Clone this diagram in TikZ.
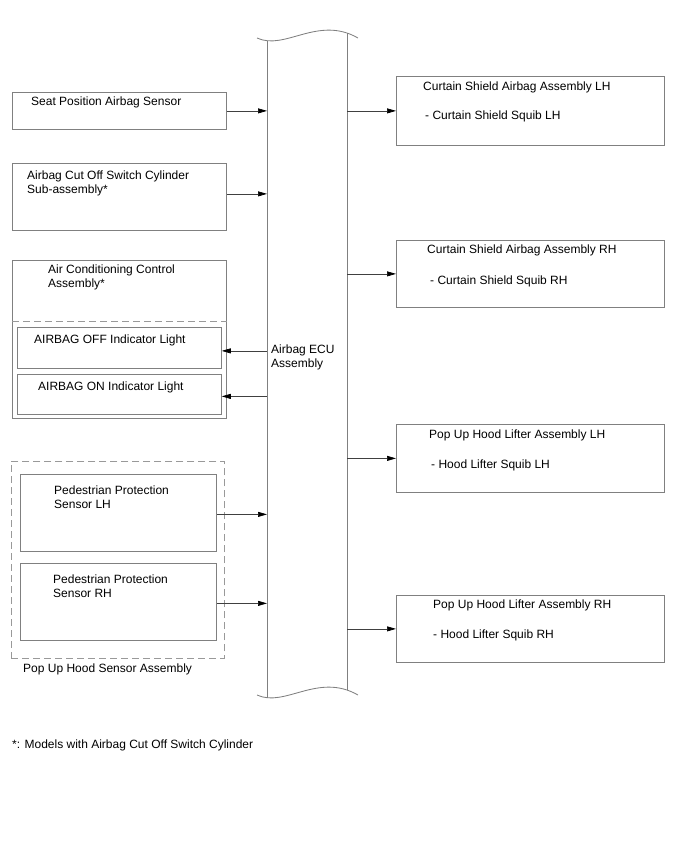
\documentclass[tikz,border=0pt]{standalone}
\usepackage{fontspec}
\setmainfont{Liberation Sans}
\usetikzlibrary{positioning, arrows.meta}

\begin{document}
\begin{tikzpicture}[x=1pt,y=-1pt,font=\fontsize{12}{14}\selectfont,
  >={Triangle[length=9pt,width=5pt,color=black]},
  box/.style={draw=black!50,line width=0.75pt,anchor=north west,inner sep=0pt},
  groupbox/.style={draw=black!40,dash pattern=on 7pt off 4pt,line width=0.75pt,anchor=north west,inner sep=0pt},
  txt/.style={inner sep=0pt,align=left},
  wire/.style={draw=black!75,line width=0.7pt,->},
  eculine/.style={draw=black!50,line width=0.85pt}]
  \useasboundingbox (0,0) rectangle (688,852);

  % airbag ECU bar
  \node[anchor=north west,minimum width=80pt,minimum height=650pt,inner sep=0pt](ecu) at (267,42) {};
  \draw[eculine] (257,38) .. controls (285,51) and (318,15) .. (358,38);
  \draw[eculine] (257,695) .. controls (285,708) and (318,672) .. (358,695);
  \draw[eculine] (267,40.8) -- (267,697.8);
  \draw[eculine] (347,33.0) -- (347,690.0);
  \node[txt,anchor=north west] (ecutxt) at (271,345) {Airbag ECU\\Assembly};

  % inputs
  \node[box,minimum width=214pt,minimum height=37pt](seat) at (12,92) {};
  \node[txt,below right=5pt and 19pt of seat.north west](seattxt){Seat Position Airbag Sensor};
  \node[box,minimum width=214pt,minimum height=67pt](cutoff) at (12,163) {};
  \node[txt,below right=8pt and 15pt of cutoff.north west](cutofftxt){Airbag Cut Off Switch Cylinder\\Sub-assembly*};

  % air conditioning control
  \node[box,minimum width=214pt,minimum height=158pt](ac) at (12,260) {};
  \node[txt,below right=5pt and 36pt of ac.north west](actxt){Air Conditioning Control\\Assembly*};
  \draw[groupbox] ([yshift=-61pt]ac.north west) -- ([yshift=-61pt]ac.north east);
  \node[box,minimum width=204pt,minimum height=41pt](off) at (17,327) {};
  \node[txt,below right=8pt and 17pt of off.north west](offtxt){AIRBAG OFF Indicator Light};
  \node[box,minimum width=204pt,minimum height=40pt](on) at (17,374) {};
  \node[txt,below right=8pt and 21pt of on.north west](ontxt){AIRBAG ON Indicator Light};

  % pop up hood sensors
  \node[groupbox,minimum width=213pt,minimum height=197pt](hood) at (11,461) {};
  \node[txt,below right=5pt and 12pt of hood.south west](hoodtxt){Pop Up Hood Sensor Assembly};
  \node[box,minimum width=196pt,minimum height=77pt](pedl) at (20,474) {};
  \node[txt,below right=12pt and 34pt of pedl.north west](pedltxt){Pedestrian Protection\\Sensor LH};
  \node[box,minimum width=196pt,minimum height=77pt](pedr) at (20,563) {};
  \node[txt,below right=12pt and 33pt of pedr.north west](pedrtxt){Pedestrian Protection\\Sensor RH};

  % outputs
  \node[box,minimum width=268pt,minimum height=69pt](csl) at (396,76) {};
  \node[txt,below right=6pt and 27pt of csl.north west](csltxt){Curtain Shield Airbag Assembly LH};
  \node[txt,below right=35pt and 29pt of csl.north west](cslsq){- Curtain Shield Squib LH};
  \node[box,minimum width=268pt,minimum height=67pt](csr) at (396,240) {};
  \node[txt,below right=5pt and 31pt of csr.north west](csrtxt){Curtain Shield Airbag Assembly RH};
  \node[txt,below right=36pt and 34pt of csr.north west](csrsq){- Curtain Shield Squib RH};
  \node[box,minimum width=268pt,minimum height=68pt](hll) at (396,424) {};
  \node[txt,below right=6pt and 33pt of hll.north west](hlltxt){Pop Up Hood Lifter Assembly LH};
  \node[txt,below right=36pt and 35pt of hll.north west](hllsq){- Hood Lifter Squib LH};
  \node[box,minimum width=268pt,minimum height=67pt](hlr) at (396,595) {};
  \node[txt,below right=5pt and 37pt of hlr.north west](hlrtxt){Pop Up Hood Lifter Assembly RH};
  \node[txt,below right=35pt and 37pt of hlr.north west](hlrsq){- Hood Lifter Squib RH};

  \node[txt,anchor=north west](note) at (12,740) {*: Models with Airbag Cut Off Switch Cylinder};

  % connections
  \draw[wire] (seat.east) -- (seat.east -| ecu.west);
  \draw[wire] ([yshift=3pt]cutoff.east) -- ([yshift=3pt]cutoff.east -| ecu.west);
  \draw[wire] ([yshift=-3pt]off.east -| ecu.west) -- ([yshift=-3pt]off.east);
  \draw[wire] ([yshift=-2pt]on.east -| ecu.west) -- ([yshift=-2pt]on.east);
  \draw[wire] ([yshift=-1.5pt]pedl.east) -- ([yshift=-1.5pt]pedl.east -| ecu.west);
  \draw[wire] ([yshift=-1.5pt]pedr.east) -- ([yshift=-1.5pt]pedr.east -| ecu.west);
  \draw[wire] (csl.west -| ecu.east) -- (csl.west);
  \draw[wire] (csr.west -| ecu.east) -- (csr.west);
  \draw[wire] (hll.west -| ecu.east) -- (hll.west);
  \draw[wire] (hlr.west -| ecu.east) -- (hlr.west);
\end{tikzpicture}
\end{document}
